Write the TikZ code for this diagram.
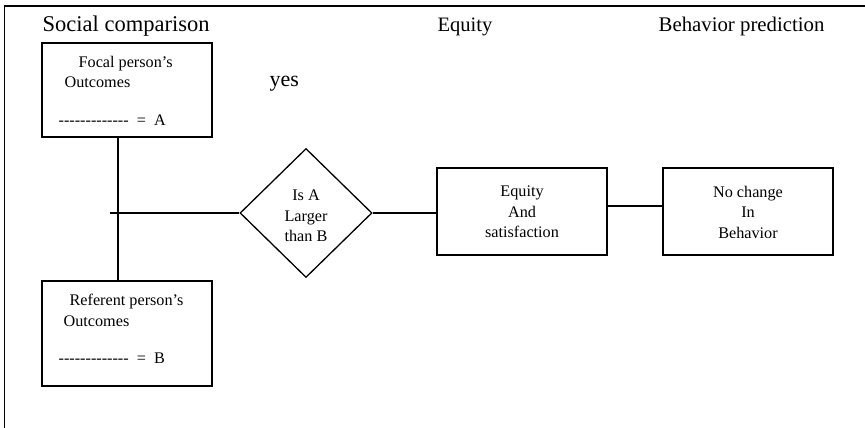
\documentclass[tikz,border=0pt]{standalone}
\usepackage{fontspec}
\setmainfont{Liberation Serif}[Ligatures=TeXOff]
\usetikzlibrary{shapes.geometric}
\begin{document}
\begin{tikzpicture}[x=1pt,y=-1pt,
  line width=1.3pt,
  boxnode/.style={draw, rectangle, inner sep=0pt},
  headtxt/.style={anchor=base west, inner sep=0pt},
  boxtxt/.style={anchor=base west, inner sep=0pt, font=\fontsize{16.2}{20.5}\selectfont},
  ctxt/.style={inner sep=0pt, align=center, font=\fontsize{16.2}{20.5}\selectfont},
  conn/.style={draw, line width=1.3pt}]
\useasboundingbox (0,0) rectangle (865,428);
% frame
\draw[line width=1.6pt] (4.5,428) -- (4.5,6) -- (865,6);
% headings
\node[headtxt, font=\fontsize{22.5}{24}\selectfont] (h1) at (42,32) {Social comparison};
\node[headtxt, font=\fontsize{20.5}{24}\selectfont] (h2) at (437,32) {Equity};
\node[headtxt, font=\fontsize{20.8}{24}\selectfont] (h3) at (658,32) {Behavior prediction};
\node[headtxt, font=\fontsize{22}{24}\selectfont] (yes) at (269,87) {yes};
% focal box
\node[boxnode, minimum width=170pt, minimum height=94pt] (focal) at (127,90) {};
\node[boxtxt] (f1) at (78,68) {Focal person’s};
\node[boxtxt] (f2) at (64,88) {Outcomes};
\node[boxtxt] (f3) at (58,125) {-------------\ \ =\ \ A};
% referent box
\node[boxnode, minimum width=170pt, minimum height=105pt] (ref) at (127,333.5) {};
\node[boxtxt] (r1) at (69,305) {Referent person’s};
\node[boxtxt] (r2) at (63,326) {Outcomes};
\node[boxtxt] (r3) at (58,363) {-------------\ \ =\ \ B};
% diamond
\node[draw, diamond, inner sep=0pt, minimum width=132pt, minimum height=129pt] (dia) at (306,213) {};
\node[ctxt] (dt) at (306,216) {Is A\\Larger\\than B};
% equity box
\node[boxnode, minimum width=170pt, minimum height=87pt] (eq) at (522,211.5) {};
\node[ctxt] (et) at (522,212) {Equity\\And\\satisfaction};
% no change box
\node[boxnode, minimum width=170pt, minimum height=87pt] (nc) at (748,211.5) {};
\node[ctxt] (nt) at (748,212) {No change\\In\\Behavior};
% connectors
\coordinate (vx) at (118,0);
\coordinate (hs) at (110,213);
\coordinate (ly) at (0,206);
\draw[conn] (focal.south -| vx) -- (ref.north -| vx);
\draw[conn] (hs) -- (dia.west);
\draw[conn] (dia.east) -- (dia.east -| eq.west);
\draw[conn] (eq.east |- ly) -- (nc.west |- ly);
\end{tikzpicture}
\end{document}
